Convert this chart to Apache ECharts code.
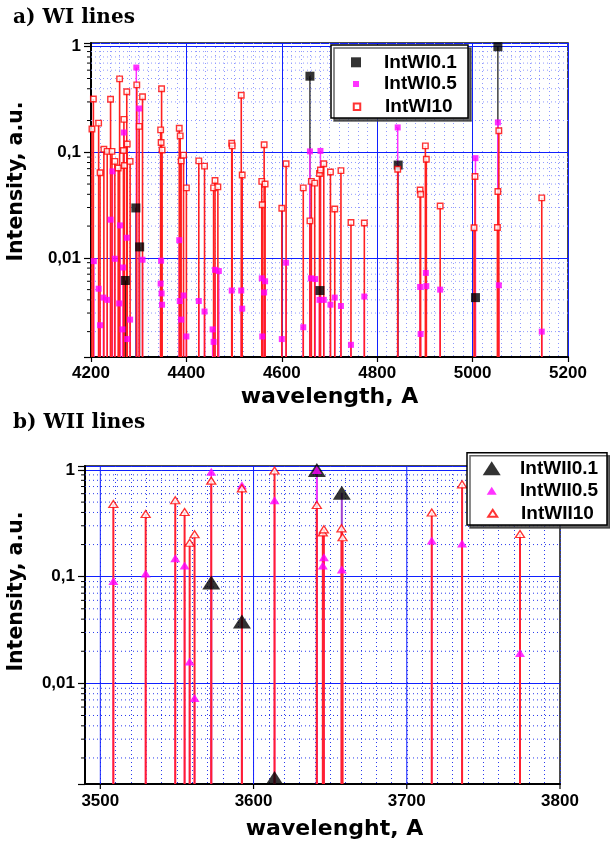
<!DOCTYPE html>
<html><head><meta charset="utf-8">
<script src="https://cdn.jsdelivr.net/npm/echarts@6/dist/echarts.min.js"></script>
<style>html,body{margin:0;padding:0;background:#fff}#c{width:610px;height:845px}</style>
</head><body><div id="c"></div>
<script>
// ---------- data: a) WI lines  [wavelength A, intensity a.u.] ----------
const wiInt01 = [[4272,0.0061],[4294,0.0297],[4302,0.0127],[4659,0.526],[4680,0.0049],[4844,0.0757],[5006,0.0042],[5053,1.0]];
const wiInt05 = [[4206,0.0093],[4216,0.0051],[4219,0.0023],[4226,0.0042],[4234,0.0040],[4241,0.023],[4245,0.066],[4250,0.0098],
  [4259,0.0037],[4261,0.0203],[4266,0.0021],[4267,0.0081],[4269,0.154],[4275,0.0155],[4276,0.0017],[4282,0.0026],[4295,0.635],
  [4301,0.26],[4308,0.0096],[4346,0.0057],[4347,0.0094],[4348,0.0046],[4349,0.0036],[4385,0.0147],[4386,0.0039],[4389,0.0026],
  [4394,0.0044],[4400,0.0018],[4426,0.0039],[4438,0.0031],[4455,0.0021],[4457,0.0016],[4460,0.0077],[4468,0.0075],[4495,0.0049],
  [4515,0.0049],[4517,0.0033],[4558,0.0064],[4559,0.0018],[4563,0.0047],[4565,0.0060],[4600,0.0017],[4609,0.0090],[4645,0.0022],
  [4659,0.102],[4661,0.0064],[4670,0.0063],[4679,0.0040],[4681,0.103],[4688,0.0040],[4702,0.0036],[4711,0.0042],[4724,0.0035],
  [4745,0.0015],[4773,0.0043],[4843,0.172],[4890,0.0053],[4891,0.0019],[4902,0.0072],[4903,0.0054],[4932,0.0050],[5006,0.088],
  [5053,0.192],[5055,0.0055],[5145,0.0020]];
const wiInt10 = [[4202,0.166],[4205,0.32],[4216,0.189],[4219,0.064],[4227,0.107],[4234,0.102],[4241,0.318],[4244,0.102],
  [4250,0.082],[4257,0.071],[4260,0.496],[4268,0.104],[4269,0.205],[4270,0.075],[4275,0.375],[4276,0.12],[4282,0.082],
  [4296,0.435],[4301,0.176],[4308,0.336],[4346,0.163],[4347,0.124],[4348,0.40],[4349,0.105],[4385,0.169],[4387,0.143],
  [4389,0.083],[4394,0.094],[4400,0.046],[4426,0.083],[4438,0.074],[4457,0.046],[4460,0.054],[4466,0.047],[4495,0.122],
  [4496,0.115],[4515,0.347],[4517,0.061],[4558,0.053],[4559,0.0318],[4563,0.118],[4565,0.050],[4600,0.0295],[4609,0.078],
  [4645,0.046],[4659,0.0224],[4662,0.053],[4669,0.051],[4679,0.063],[4681,0.068],[4688,0.078],[4702,0.065],[4711,0.029],
  [4724,0.067],[4745,0.0216],[4773,0.0214],[4843,0.069],[4890,0.044],[4891,0.040],[4901,0.115],[4903,0.086],[4932,0.031],
  [5003,0.0193],[5005,0.059],[5052,0.0194],[5053,0.0425],[5055,0.16],[5145,0.037]];

// ---------- data: b) WII lines ----------
const wiiInt01 = [[3572.4,0.088],[3592.4,0.038],[3613.7,0.0013],[3641.3,1.0],[3657.6,0.613]];
const wiiInt05 = [[3508.5,0.091],[3529.6,0.107],[3548.9,0.149],[3555,0.127],[3558.3,0.016],[3561.5,0.0073],[3572.4,0.965],
  [3592.4,0.72],[3613.7,0.52],[3641.3,1.0],[3645.2,0.127],[3645.9,0.152],[3657.6,0.117],[3716.3,0.218],[3736.1,0.205],[3773.9,0.0193]];
const wiiInt10 = [[3508.5,0.48],[3529.6,0.387],[3548.9,0.52],[3555,0.404],[3558.3,0.208],[3561.5,0.25],[3572.4,0.794],
  [3592.4,0.673],[3613.7,0.99],[3641.3,0.47],[3645.2,0.26],[3645.9,0.278],[3657.4,0.284],[3658.1,0.234],[3716.3,0.40],
  [3736.1,0.734],[3773.9,0.251]];

// ---------- axis ticks / labels ----------
const yTickValues = [1, 0.1, 0.01, 0.001];
const yTickLabels = ['1', '0,1', '0,01', '0,001'];
const wiiMajorX = [3500, 3600, 3700, 3800];
const decades = [0.001, 0.01, 0.1];
const minorMult = [2, 3, 4, 5, 6, 7, 8, 9];

const WI_X = [4200, 5200], WI_Y = [0.00115, 1.085];
const WII_X = [3490, 3800], WII_Y = [0.00114, 1.09];

const minorLogVals = [];
decades.forEach(d => minorMult.forEach(m => minorLogVals.push(+(d * m).toPrecision(3))));

function yLabel(v) {
  for (let i = 0; i < yTickValues.length; i++) {
    if (Math.abs(v - yTickValues[i]) / yTickValues[i] < 1e-6) return yTickLabels[i];
  }
  return '';
}

const nameFont = {fontFamily: 'DejaVu Sans', fontWeight: 'bold', color: '#000'};
const tickFont = {fontFamily: 'Liberation Sans', fontWeight: 'bold', color: '#000', fontSize: 17};

function yAxisCfg(gi, ext, gap, shift) {
  return {
    type: 'log', logBase: 10, gridIndex: gi, min: ext[0], max: ext[1],
    name: 'Intensity, a.u.', nameLocation: 'middle', nameGap: gap, nameRotate: 90,
    nameTextStyle: Object.assign({fontSize: 20.5, padding: [0, 0, 0, shift]}, nameFont),
    axisLine: {show: true, onZero: false, lineStyle: {color: '#000', width: 2}},
    axisTick: {show: true, inside: false, length: 7, lineStyle: {color: '#000', width: 1.2}},
    minorTick: {show: false},
    axisLabel: Object.assign({margin: 10, formatter: yLabel}, tickFont),
    splitLine: {show: true, lineStyle: {color: '#1020ff', width: 1}}
  };
}

function minorYRender(color, xMin) {
  return function (params, api) {
    const cs = params.coordSys;
    const y = api.coord([xMin, api.value(1)])[1];
    return {type: 'group', children: [
      {type: 'line', shape: {x1: cs.x, y1: y, x2: cs.x + cs.width, y2: y}, style: {stroke: color, lineWidth: 1, lineDash: [1, 3]}},
      {type: 'line', shape: {x1: cs.x - 4, y1: y, x2: cs.x, y2: y}, style: {stroke: '#000', lineWidth: 1}}
    ]};
  };
}

function majorXRender(yMin) {
  return function (params, api) {
    const cs = params.coordSys;
    const x = api.coord([api.value(0), yMin])[0];
    const ch = [{type: 'line', shape: {x1: x, y1: cs.y + cs.height, x2: x, y2: cs.y + cs.height + 5}, style: {stroke: '#000', lineWidth: 1.2}}];
    if (x < cs.x + cs.width - 2) ch.unshift({type: 'line', shape: {x1: x, y1: cs.y, x2: x, y2: cs.y + cs.height}, style: {stroke: '#1020ff', lineWidth: 1}});
    return {type: 'group', children: ch};
  };
}

function stemRender(color, width) {
  return function (params, api) {
    const p = api.coord([api.value(0), api.value(1)]);
    const cs = params.coordSys;
    return {type: 'line', shape: {x1: p[0], y1: p[1], x2: p[0], y2: cs.y + cs.height}, style: {stroke: color, lineWidth: width}};
  };
}

function stem(name, gi, data, color, width) {
  return {type: 'custom', name: name, xAxisIndex: gi, yAxisIndex: gi, data: data, renderItem: stemRender(color, width),
    encode: {x: 0, y: 1}, silent: true, z: 2, clip: false};
}

// legend entry: icon centred at cx, text starting at tx, row centred at cy
function leg(name, cx, tx, cy, w, h) {
  const left = cx - w / 2;
  return {data: [name], left: left, top: cy - 10, orient: 'vertical', itemWidth: w, itemHeight: h, padding: 0,
    selectedMode: false, z: 8,
    textStyle: {fontFamily: 'Liberation Sans', fontWeight: 'bold', fontSize: 19, color: '#000', lineHeight: 20,
      padding: [0, 0, 0, tx - (left + w + 5)]}};
}

const option = {
  animation: false,
  backgroundColor: '#fff',
  title: [
    {text: 'a) WI lines', left: 13, top: 8, padding: 0, textStyle: {fontFamily: 'DejaVu Serif', fontWeight: 'bold', fontSize: 20, color: '#000'}},
    {text: 'b) WII lines', left: 13, top: 413, padding: 0, textStyle: {fontFamily: 'DejaVu Serif', fontWeight: 'bold', fontSize: 20, color: '#000'}}
  ],
  grid: [
    {left: 91, top: 43, width: 477, height: 314, show: true, borderColor: '#111', borderWidth: 1.5, backgroundColor: 'transparent', containLabel: false, outerBoundsMode: 'none'},
    {left: 85, top: 466, width: 475, height: 318, show: true, borderColor: '#111', borderWidth: 1.5, backgroundColor: 'transparent', containLabel: false, outerBoundsMode: 'none'}
  ],
  xAxis: [
    {type: 'value', gridIndex: 0, min: WI_X[0], max: WI_X[1], interval: 200,
      name: 'wavelength, A', nameLocation: 'middle', nameGap: 29,
      nameTextStyle: Object.assign({fontSize: 22}, nameFont),
      axisLine: {onZero: false, lineStyle: {color: '#000', width: 2}},
      axisTick: {show: true, length: 5, lineStyle: {color: '#000', width: 1.2}},
      axisLabel: Object.assign({margin: 8, formatter: function (v) { return String(Math.round(v)); }}, tickFont),
      splitLine: {show: true, lineStyle: {color: '#1020ff', width: 1}},
      minorTick: {show: false, splitNumber: 10},
      minorSplitLine: {show: true, lineStyle: {color: '#8f99ff', type: [1, 3], width: 1}}},
    {type: 'value', gridIndex: 1, min: WII_X[0], max: WII_X[1], interval: 10,
      name: 'wavelenght, A', nameLocation: 'middle', nameGap: 34,
      nameTextStyle: Object.assign({fontSize: 22, padding: [0, 0, 0, 24]}, nameFont),
      axisLine: {onZero: false, lineStyle: {color: '#000', width: 2}},
      axisTick: {show: false},
      axisLabel: Object.assign({margin: 9, formatter: function (v) {
        const r = Math.round(v); return (r % 100 === 0 && r > WII_X[0]) ? String(r) : ''; }}, tickFont),
      splitLine: {show: true, lineStyle: {color: '#2a3aee', type: [1, 3], width: 1}}}
  ],
  yAxis: [yAxisCfg(0, WI_Y, 64, 37), yAxisCfg(1, WII_Y, 58, 67)],
  legend: [
    leg('IntWI0.1', 356, 384, 62.3, 10, 10), leg('IntWI0.5', 356, 384, 84, 6, 6), leg('IntWI10', 356, 384, 106.7, 6.5, 6.5),
    leg('IntWII0.1', 491.7, 520, 468.3, 18, 14), leg('IntWII0.5', 491.7, 520, 490.7, 10, 8), leg('IntWII10', 491.7, 520, 513.3, 9, 7)
  ],
  graphic: [
    {type: 'rect', z: 6, shape: {x: 331, y: 45, width: 137, height: 73},
      style: {fill: '#fff', stroke: '#000', lineWidth: 1.5, shadowColor: 'rgba(60,60,60,0.8)', shadowOffsetX: 3, shadowOffsetY: 3, shadowBlur: 0}},
    {type: 'rect', z: 6, shape: {x: 467, y: 452.7, width: 140, height: 72.3},
      style: {fill: '#fff', stroke: '#000', lineWidth: 1.5, shadowColor: 'rgba(60,60,60,0.8)', shadowOffsetX: 3, shadowOffsetY: 3, shadowBlur: 0}}
  ],
  series: [
    {type: 'custom', name: 'minorY0', xAxisIndex: 0, yAxisIndex: 0, data: minorLogVals.map(v => [WI_X[0], v]),
      renderItem: minorYRender('#8f99ff', WI_X[0]), encode: {x: 0, y: 1}, silent: true, z: 1, clip: false},
    {type: 'custom', name: 'minorY1', xAxisIndex: 1, yAxisIndex: 1, data: minorLogVals.map(v => [WII_X[0], v]),
      renderItem: minorYRender('#2a3aee', WII_X[0]), encode: {x: 0, y: 1}, silent: true, z: 1, clip: false},
    {type: 'custom', name: 'majorX1', xAxisIndex: 1, yAxisIndex: 1, data: wiiMajorX.map(x => [x, WII_Y[0]]),
      renderItem: majorXRender(WII_Y[0]), encode: {x: 0, y: 1}, silent: true, z: 1, clip: false},

    stem('s01', 0, wiInt01, '#111', 1.2),
    stem('s05', 0, wiInt05, '#ff30ff', 1.5),
    stem('s10', 0, wiInt10, '#ff2020', 1.6),
    stem('t01', 1, wiiInt01, '#a040d0', 2),
    stem('t05', 1, wiiInt05, '#ff30ff', 1.6),
    stem('t10', 1, wiiInt10, '#ff2030', 2),

    {type: 'scatter', name: 'IntWI0.1', xAxisIndex: 0, yAxisIndex: 0, data: wiInt01, symbol: 'rect', symbolSize: 9,
      itemStyle: {color: '#000'}, z: 3, clip: false},
    {type: 'scatter', name: 'IntWI0.5', xAxisIndex: 0, yAxisIndex: 0, data: wiInt05, symbol: 'rect', symbolSize: 6,
      itemStyle: {color: '#ff00ff'}, z: 4, clip: false},
    {type: 'scatter', name: 'IntWI10', xAxisIndex: 0, yAxisIndex: 0, data: wiInt10, symbol: 'rect', symbolSize: 5.5,
      itemStyle: {color: '#fff', borderColor: '#ff0000', borderWidth: 1.4}, z: 5, clip: false},
    {type: 'scatter', name: 'IntWII0.1', xAxisIndex: 1, yAxisIndex: 1, data: wiiInt01, symbol: 'triangle', symbolSize: [18, 14],
      itemStyle: {color: '#000'}, z: 3, clip: false},
    {type: 'scatter', name: 'IntWII0.5', xAxisIndex: 1, yAxisIndex: 1, data: wiiInt05, symbol: 'triangle', symbolSize: [10, 8],
      itemStyle: {color: '#ff00ff'}, z: 4, clip: false},
    {type: 'scatter', name: 'IntWII10', xAxisIndex: 1, yAxisIndex: 1, data: wiiInt10, symbol: 'triangle', symbolSize: [9, 7],
      itemStyle: {color: '#fff', borderColor: '#ff0000', borderWidth: 1.3}, z: 5, clip: false}
  ]
};

const chart = echarts.init(document.getElementById('c'), null, {renderer: 'canvas'});
chart.setOption(option);
</script>
</body></html>
